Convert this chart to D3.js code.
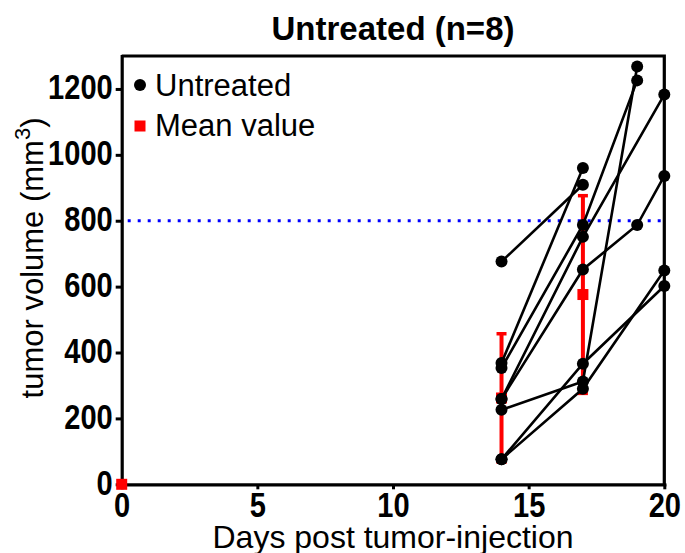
<!DOCTYPE html>
<html><head><meta charset="utf-8">
<script src="https://cdn.jsdelivr.net/npm/d3@7"></script>
<style>body{margin:0;background:#fff} svg{display:block}</style>
</head><body>
<svg id="chart" width="685" height="553"></svg>
<script>
// ---- data ----
const sampleDays = [14, 17, 19, 20];
const mouse1 = [676, 909, null, null];
const mouse2 = [368, 960, null, null];
const mouse3 = [353, 787, 1226, null];
const mouse4 = [259, 751, null, 1183];
const mouse5 = [259, 652, 787, 936];
const mouse6 = [226, 312, 1268, null];
const mouse7 = [76, 366, null, 602];
const mouse8 = [76, 290, null, 649];
const meanDays = [0, 14, 17];
const meanValues = [0, 262, 576];
const meanSD = [0, 195, 300];
const thresholdValue = 800;
const xTicks = [0, 5, 10, 15, 20];
const yTicks = [0, 200, 400, 600, 800, 1000, 1200];
const titleText = "Untreated (n=8)";
const legendLabels = ["Untreated", "Mean value"];

// ---- chart ----
const svg = d3.select("#chart");
const L = 121.7, R = 664.3, T = 56, B = 484.3;
const x = d3.scaleLinear().domain([0, 20]).range([L, R]);
const y = d3.scaleLinear().domain([0, 1300]).range([B, T]);
const sans = "'Liberation Sans',Arial,sans-serif";

// frame top/right
svg.append("path")
  .attr("d", `M${x(0)},${y(1300)}H${x(20)}V${y(0)}`)
  .attr("fill", "none").attr("stroke", "#000").attr("stroke-width", 3.2);

const yAxis = svg.append("g").attr("transform", `translate(${L},0)`)
  .call(d3.axisLeft(y).tickValues(yTicks).tickSize(6).tickSizeOuter(0).tickPadding(3).tickFormat(d3.format("d")));
const xAxis = svg.append("g").attr("transform", `translate(0,${B})`)
  .call(d3.axisBottom(x).tickValues(xTicks).tickSize(5).tickSizeOuter(0).tickPadding(3).tickFormat(d3.format("d")));
[yAxis, xAxis].forEach(g => {
  g.select(".domain").attr("stroke-width", 3.2).attr("stroke-linecap", "square");
  g.selectAll(".tick line").attr("stroke-width", 3);
  g.selectAll(".tick text").attr("font-family", sans).attr("font-weight", "bold")
    .attr("font-size", 35).attr("fill", "#000")
    .each(function () {
      const w = this.getComputedTextLength();
      d3.select(this).attr("textLength", w * 0.83).attr("lengthAdjust", "spacingAndGlyphs");
    });
});
yAxis.selectAll(".tick text").attr("dy", "0.28em");
xAxis.selectAll(".tick text").attr("dy", "0.72em");

// threshold
svg.append("line")
  .attr("x1", x(0) + 6).attr("x2", x(20) - 3)
  .attr("y1", y(thresholdValue)).attr("y2", y(thresholdValue))
  .attr("stroke", "#0000ff").attr("stroke-width", 3)
  .attr("stroke-dasharray", "3,7");

// mean + SD (red)
const red = "#ff0000";
const meanG = svg.append("g");
meanDays.forEach((d, i) => {
  if (meanSD[i] > 0) {
    const cx = x(d), top = y(meanValues[i] + meanSD[i]), bot = y(meanValues[i] - meanSD[i]);
    meanG.append("line").attr("x1", cx).attr("x2", cx).attr("y1", top).attr("y2", bot)
      .attr("stroke", red).attr("stroke-width", 4);
    [top, bot].forEach(v => meanG.append("line").attr("x1", cx - 5).attr("x2", cx + 5)
      .attr("y1", v).attr("y2", v).attr("stroke", red).attr("stroke-width", 3.5));
  }
  meanG.append("rect").attr("x", x(d) - 5.5).attr("y", y(meanValues[i]) - 5.5)
    .attr("width", 11).attr("height", 11).attr("fill", red);
});

// individual mice
const mice = [mouse1, mouse2, mouse3, mouse4, mouse5, mouse6, mouse7, mouse8];
const line = d3.line().x(p => x(p[0])).y(p => y(p[1]));
mice.forEach(m => {
  const pts = sampleDays.map((d, i) => [d, m[i]]).filter(p => p[1] !== null);
  svg.append("path").attr("d", line(pts)).attr("fill", "none")
    .attr("stroke", "#000").attr("stroke-width", 2.6);
});
mice.forEach(m => {
  const pts = sampleDays.map((d, i) => [d, m[i]]).filter(p => p[1] !== null);
  svg.append("g").selectAll("circle").data(pts).join("circle")
    .attr("cx", p => x(p[0])).attr("cy", p => y(p[1])).attr("r", 6).attr("fill", "#000");
});

// legend
svg.append("circle").attr("cx", 140).attr("cy", 85).attr("r", 6).attr("fill", "#000");
svg.append("rect").attr("x", 134.5).attr("y", 120.5).attr("width", 11).attr("height", 11).attr("fill", red);
svg.append("text").attr("x", 155).attr("y", 96).attr("font-family", sans).attr("font-size", 31)
  .text(legendLabels[0]);
svg.append("text").attr("x", 155).attr("y", 136).attr("font-family", sans).attr("font-size", 31)
  .text(legendLabels[1]);

// title
svg.append("text").attr("x", (L + R) / 2).attr("y", 40).attr("text-anchor", "middle")
  .attr("font-family", sans).attr("font-weight", "bold").attr("font-size", 33)
  .text(titleText);

// axis titles
svg.append("text").attr("x", (L + R) / 2).attr("y", 548).attr("text-anchor", "middle")
  .attr("font-family", sans).attr("font-size", 32).text("Days post tumor-injection");
const yl = svg.append("text").attr("transform", "translate(43,258) rotate(-90)")
  .attr("text-anchor", "middle").attr("font-family", sans).attr("font-size", 31);
yl.append("tspan").text("tumor volume (mm");
yl.append("tspan").attr("font-size", 22).attr("dy", -13).text("3");
yl.append("tspan").attr("dy", 13).text(")");
</script>
</body></html>
